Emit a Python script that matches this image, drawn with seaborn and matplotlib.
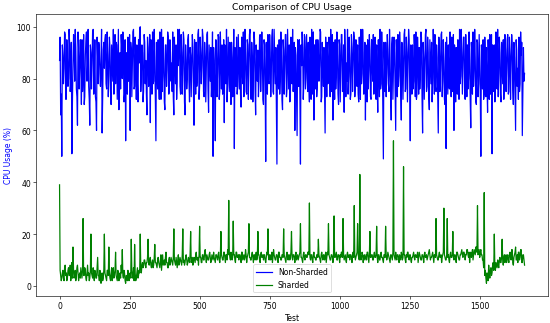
#!/usr/bin/env python3

import matplotlib
matplotlib.use("Agg")
import matplotlib.pyplot as plt
import seaborn as sns
import numpy as np

# CPU usage (%), one value every 2 tests
non_sharded = [
    87, 96, 66, 74, 50, 93, 89, 78, 84, 98, 97, 72, 72, 95, 88, 77, 80, 99, 93, 75, 78, 94, 51, 71, 86, 97, 90, 79, 99, 92, 76, 73, 62, 98, 92, 76, 84, 95, 88, 70,
    95, 75, 81, 97, 70, 73, 89, 94, 98, 79, 85, 99, 77, 72, 62, 93, 90, 76, 86, 98, 99, 74, 80, 95, 73, 71, 60, 96, 88, 78, 94, 92, 82, 77, 87, 99, 59, 73, 91, 94,
    84, 95, 97, 78, 76, 98, 89, 73, 81, 96, 92, 75, 70, 93, 86, 79, 99, 74, 83, 97, 78, 94, 93, 72, 85, 99, 68, 77, 90, 76, 97, 92, 80, 98, 88, 71, 74, 95, 56, 90,
    89, 74, 96, 79, 82, 97, 60, 94, 91, 73, 85, 98, 99, 76, 77, 96, 88, 72, 93, 78, 71, 95, 86, 99, 100, 75, 82, 93, 90, 71, 75, 97, 94, 78, 87, 74, 66, 96, 92, 77,
    85, 97, 63, 95, 90, 74, 98, 78, 79, 99, 88, 73, 56, 94, 84, 76, 95, 79, 72, 98, 89, 72, 99, 75, 81, 96, 87, 71, 68, 93, 93, 77, 83, 98, 96, 74, 76, 95, 90, 79,
    86, 75, 98, 73, 66, 96, 88, 78, 93, 72, 79, 99, 85, 94, 99, 77, 74, 97, 90, 74, 84, 98, 95, 71, 66, 93, 87, 76, 80, 95, 97, 79, 71, 92, 89, 73, 85, 97, 92, 75,
    62, 95, 88, 74, 94, 77, 81, 97, 99, 72, 77, 96, 90, 78, 85, 99, 96, 75, 73, 94, 88, 71, 83, 97, 98, 76, 67, 93, 86, 79, 92, 73, 79, 98, 50, 92, 87, 74, 56, 95,
    91, 73, 82, 97, 96, 72, 75, 98, 88, 76, 93, 74, 80, 95, 63, 93, 89, 78, 99, 71, 78, 96, 86, 75, 94, 79, 70, 94, 88, 73, 83, 99, 53, 92, 90, 77, 96, 74, 77, 97,
    87, 76, 92, 74, 69, 96, 85, 78, 98, 73, 80, 99, 89, 75, 74, 95, 93, 72, 86, 97, 99, 77, 72, 94, 88, 71, 82, 98, 95, 76, 66, 93, 87, 79, 91, 73, 79, 96, 97, 75,
    84, 98, 89, 72, 70, 95, 93, 77, 48, 94, 86, 74, 97, 79, 78, 97, 90, 73, 83, 96, 99, 75, 74, 99, 88, 78, 92, 71, 47, 93, 85, 76, 95, 74, 80, 98, 89, 72, 68, 95,
    91, 74, 84, 97, 97, 73, 76, 99, 88, 76, 93, 71, 72, 96, 86, 78, 99, 75, 81, 94, 60, 92, 89, 73, 58, 95, 90, 77, 95, 74, 47, 93, 85, 98, 92, 72, 78, 97, 96, 76,
    87, 97, 80, 75, 94, 78, 71, 96, 89, 72, 99, 74, 83, 98, 64, 93, 88, 76, 95, 73, 77, 95, 90, 79, 85, 99, 98, 71, 73, 94, 87, 77, 92, 74, 59, 96, 86, 73, 94, 78,
    80, 96, 91, 73, 99, 77, 75, 97, 64, 94, 88, 72, 95, 76, 82, 98, 89, 74, 70, 95, 93, 71, 85, 97, 97, 75, 78, 93, 67, 99, 90, 73, 86, 79, 99, 74, 81, 96, 88, 72,
    74, 97, 92, 75, 85, 98, 96, 73, 79, 95, 88, 77, 93, 74, 71, 96, 87, 72, 99, 78, 82, 99, 90, 74, 76, 94, 64, 93, 89, 71, 95, 76, 83, 97, 91, 73, 72, 95, 88, 79,
    97, 74, 80, 96, 89, 72, 93, 77, 67, 95, 86, 73, 99, 76, 78, 98, 90, 71, 49, 94, 87, 75, 94, 73, 82, 97, 91, 78, 75, 99, 88, 74, 64, 93, 96, 72, 85, 96, 90, 76,
    60, 95, 88, 73, 97, 77, 81, 98, 92, 74, 64, 94, 89, 72, 84, 97, 99, 75, 76, 96, 90, 71, 86, 99, 95, 78, 56, 93, 88, 74, 93, 76, 79, 97, 91, 73, 98, 72, 74, 96,
    87, 74, 92, 76, 82, 98, 96, 73, 59, 94, 88, 72, 85, 97, 99, 75, 77, 96, 90, 73, 68, 95, 86, 78, 94, 71, 80, 99, 89, 74, 97, 77, 75, 93, 88, 72, 59, 96, 91, 75,
    84, 97, 98, 73, 79, 95, 87, 72, 70, 94, 53, 96, 85, 74, 93, 77, 76, 98, 89, 73, 96, 75, 82, 97, 60, 93, 88, 71, 92, 76, 74, 95, 87, 72, 99, 78, 81, 99, 90, 74,
    85, 96, 96, 75, 72, 97, 89, 73, 93, 76, 80, 98, 87, 72, 61, 94, 90, 74, 98, 77, 83, 99, 88, 71, 70, 95, 94, 73, 78, 97, 86, 74, 50, 93, 89, 76, 95, 72, 74, 96,
    88, 73, 92, 77, 67, 95, 86, 72, 97, 74, 80, 97, 51, 93, 89, 75, 93, 71, 76, 98, 88, 76, 99, 73, 82, 96, 90, 74, 71, 94, 86, 78, 95, 72, 79, 97, 91, 75, 84, 95,
    97, 74, 75, 96, 89, 72, 86, 97, 93, 76, 70, 94, 88, 73, 60, 95, 91, 77, 84, 72, 96, 75, 78, 98, 89, 94, 58, 74, 92, 79, 82,
]

sharded = [
    39, 6, 4, 2, 3, 5, 6, 3, 2, 7, 8, 4, 5, 2, 3, 6, 7, 4, 4, 8, 2, 5, 9, 3, 15, 6, 3, 4, 6, 2, 4, 7, 8, 5, 2, 4, 5, 3, 7, 5,
    3, 6, 26, 4, 4, 7, 6, 3, 2, 5, 8, 4, 5, 2, 3, 6, 20, 5, 4, 3, 7, 4, 2, 6, 5, 3, 3, 7, 11, 4, 4, 2, 6, 5, 1, 4, 5, 2, 3, 6,
    20, 5, 4, 3, 2, 6, 6, 4, 15, 5, 3, 2, 5, 7, 2, 4, 7, 3, 4, 6, 13, 4, 3, 2, 6, 5, 2, 4, 5, 3, 8, 5, 14, 4, 3, 6, 5, 2, 1, 4,
    4, 2, 6, 5, 2, 4, 5, 3, 18, 6, 3, 4, 7, 2, 16, 5, 2, 3, 5, 7, 3, 4, 6, 5, 20, 7, 5, 8, 9, 7, 8, 10, 10, 8, 7, 9, 9, 11, 18, 9,
    8, 10, 11, 8, 7, 9, 10, 7, 8, 11, 16, 9, 9, 8, 7, 10, 11, 9, 8, 7, 10, 12, 6, 9, 12, 8, 9, 10, 8, 11, 13, 9, 9, 7, 7, 10, 11, 8, 9, 11,
    10, 9, 8, 11, 22, 10, 9, 8, 11, 9, 7, 10, 12, 8, 9, 11, 10, 9, 8, 12, 22, 9, 10, 8, 9, 11, 12, 10, 8, 9, 11, 10, 9, 12, 21, 9, 10, 11, 8, 10,
    11, 10, 9, 12, 13, 10, 10, 11, 8, 12, 23, 11, 11, 9, 9, 12, 12, 10, 10, 13, 14, 11, 9, 12, 11, 10, 10, 12, 13, 11, 9, 10, 12, 11, 10, 13, 11, 10, 9, 12,
    12, 11, 10, 12, 13, 10, 9, 11, 21, 12, 11, 10, 10, 13, 13, 11, 9, 12, 12, 10, 14, 12, 33, 13, 11, 10, 13, 12, 10, 11, 25, 12, 12, 10, 9, 13, 13, 11, 11, 12,
    10, 12, 12, 11, 9, 13, 13, 10, 11, 12, 10, 11, 14, 12, 9, 11, 12, 13, 24, 11, 11, 10, 10, 12, 13, 11, 9, 12, 12, 10, 11, 13, 10, 11, 21, 12, 12, 10, 9, 12,
    13, 11, 11, 12, 10, 12, 12, 10, 9, 11, 13, 12, 22, 11, 10, 12, 12, 10, 11, 13, 9, 11, 14, 12, 11, 10, 10, 12, 12, 11, 9, 13, 13, 11, 11, 10, 10, 12, 12, 11,
    22, 12, 11, 10, 9, 12, 13, 11, 10, 12, 12, 10, 11, 13, 21, 11, 10, 12, 12, 11, 9, 12, 13, 10, 11, 12, 10, 11, 12, 13, 24, 11, 11, 10, 9, 12, 13, 11, 10, 12,
    12, 11, 11, 13, 13, 12, 32, 11, 10, 12, 12, 10, 9, 12, 13, 11, 11, 10, 10, 12, 12, 11, 18, 12, 11, 10, 9, 12, 13, 11, 10, 12, 12, 10, 11, 13, 9, 11, 13, 12,
    24, 12, 11, 10, 10, 12, 12, 11, 9, 12, 27, 11, 11, 12, 13, 10, 10, 12, 12, 11, 9, 12, 11, 13, 13, 11, 26, 12, 10, 11, 12, 10, 9, 12, 13, 11, 11, 12, 10, 12,
    12, 11, 9, 12, 13, 11, 31, 12, 10, 11, 12, 13, 24, 12, 11, 10, 43, 12, 10, 11, 13, 12, 9, 11, 12, 10, 11, 12, 10, 13, 13, 11, 9, 12, 21, 11, 11, 12, 12, 10,
    10, 12, 13, 11, 11, 12, 23, 11, 9, 12, 12, 10, 10, 12, 13, 11, 11, 10, 9, 12, 12, 11, 23, 12, 10, 11, 13, 12, 11, 10, 9, 12, 12, 11, 10, 13, 56, 12, 11, 10,
    13, 11, 10, 12, 12, 11, 9, 12, 11, 10, 13, 12, 10, 11, 46, 12, 12, 10, 9, 12, 11, 13, 13, 11, 10, 12, 12, 10, 9, 11, 11, 12, 13, 11, 10, 12, 12, 11, 11, 13,
    9, 11, 13, 12, 11, 10, 10, 12, 12, 11, 9, 12, 13, 11, 11, 12, 10, 11, 12, 13, 14, 12, 10, 11, 11, 12, 13, 11, 9, 12, 12, 11, 26, 12, 11, 10, 10, 12, 13, 11,
    11, 12, 9, 11, 12, 13, 30, 12, 11, 10, 10, 12, 26, 11, 12, 10, 9, 12, 13, 11, 11, 12, 21, 11, 10, 12, 12, 11, 9, 13, 13, 12, 11, 10, 10, 12, 12, 13, 14, 12,
    11, 13, 13, 12, 10, 12, 12, 14, 14, 12, 11, 13, 9, 12, 13, 11, 12, 14, 10, 12, 14, 13, 12, 15, 15, 13, 31, 12, 13, 14, 11, 13, 14, 12, 12, 10, 10, 7, 36, 4,
    6, 3, 1, 5, 4, 2, 8, 5, 3, 6, 7, 4, 5, 8, 9, 6, 20, 7, 6, 9, 8, 7, 10, 8, 7, 10, 11, 9, 9, 11, 18, 10, 8, 11, 12, 9, 10, 12, 9, 11,
    12, 10, 9, 12, 13, 11, 10, 14, 14, 9, 8, 11, 12, 13, 15, 10, 10, 12, 9, 13, 13, 10, 11, 14, 14, 9, 9, 12, 12, 10, 8,
]

step = 2
tests_ns = np.arange(len(non_sharded)) * step
tests_s = np.arange(len(sharded)) * step

fig, ax = plt.subplots(figsize=(10, 5.89), dpi=55)
fig.subplots_adjust(left=0.066, right=0.996, top=0.954, bottom=0.083)

sns.lineplot(x=tests_ns, y=non_sharded, color='blue', label='Non-Sharded', linewidth=1.6, ax=ax)
sns.lineplot(x=tests_s, y=sharded, color='green', label='Sharded', linewidth=1.6, ax=ax)

ax.set_title('Comparison of CPU Usage')
ax.set_xlabel('Test')
ax.set_ylabel('CPU Usage (%)', color='blue')
ax.legend(loc='lower center')

plt.savefig('out.png')
